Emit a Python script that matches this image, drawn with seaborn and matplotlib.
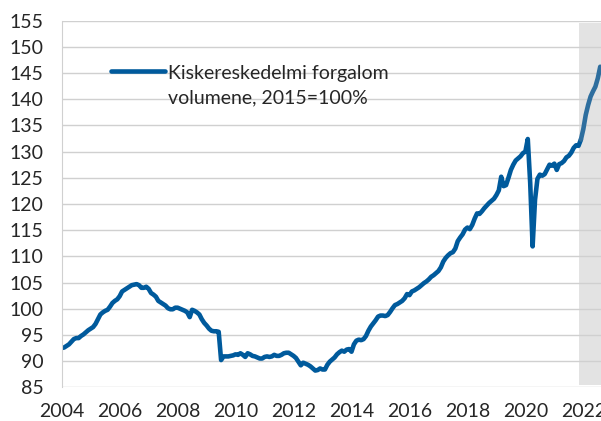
import numpy as np
import pandas as pd
import seaborn as sns
import matplotlib.pyplot as plt

# monthly index values, 2004-01 .. 2022-08 (2015=100)
y2004 = [92.5, 92.6, 92.9, 93.2, 93.7, 94.2, 94.4, 94.4, 94.8, 95.1, 95.5, 95.9]
y2005 = [96.2, 96.5, 97.1, 98.0, 98.9, 99.3, 99.6, 99.8, 100.4, 101.1, 101.5, 101.8]
y2006 = [102.4, 103.3, 103.6, 103.9, 104.2, 104.5, 104.6, 104.7, 104.5, 104.0, 104.0, 104.2]
y2007 = [103.8, 103.0, 102.7, 102.3, 101.5, 101.2, 100.9, 100.6, 100.1, 99.9, 99.9, 100.2]
y2008 = [100.2, 100.0, 99.8, 99.6, 99.3, 98.4, 99.8, 99.6, 99.3, 98.9, 98.0, 97.3]
y2009 = [96.8, 96.2, 95.8, 95.7, 95.7, 95.6, 90.2, 90.9, 90.9, 90.9, 91.0, 91.1]
y2010 = [91.3, 91.2, 91.5, 91.2, 90.8, 91.5, 91.3, 91.0, 90.9, 90.7, 90.5, 90.5]
y2011 = [90.8, 90.9, 90.8, 90.9, 91.2, 91.0, 91.0, 91.2, 91.5, 91.6, 91.6, 91.3]
y2012 = [91.0, 90.6, 89.9, 89.2, 89.7, 89.5, 89.3, 89.0, 88.6, 88.2, 88.3, 88.6]
y2013 = [88.4, 88.4, 89.3, 89.9, 90.3, 90.7, 91.3, 91.7, 92.0, 91.8, 92.2, 92.3]
y2014 = [91.8, 93.2, 93.9, 94.1, 94.0, 94.2, 94.8, 95.8, 96.6, 97.2, 97.8, 98.5]
y2015 = [98.7, 98.7, 98.6, 98.8, 99.4, 100.1, 100.7, 100.9, 101.2, 101.5, 102.0, 102.8]
y2016 = [102.6, 103.3, 103.5, 103.8, 104.1, 104.5, 104.9, 105.2, 105.6, 106.1, 106.4, 106.8]
y2017 = [107.2, 107.9, 109.0, 109.7, 110.2, 110.6, 110.8, 111.5, 112.9, 113.6, 114.2, 115.1]
y2018 = [115.5, 115.2, 116.0, 117.2, 118.2, 118.1, 118.6, 119.2, 119.7, 120.2, 120.6, 121.0]
y2019 = [121.7, 122.6, 125.2, 123.4, 123.6, 125.0, 126.5, 127.5, 128.3, 128.7, 129.1, 129.7]
y2020 = [130.0, 132.4, 124.0, 111.9, 120.8, 124.8, 125.6, 125.4, 125.7, 126.6, 127.5, 127.3]
y2021 = [127.7, 126.5, 127.6, 127.8, 128.2, 128.9, 129.2, 129.8, 130.7, 131.2, 131.1, 132.3]
y2022 = [134.3, 137.0, 138.9, 140.5, 141.5, 142.4, 144.0, 146.2]

values = (y2004 + y2005 + y2006 + y2007 + y2008 + y2009 + y2010 + y2011 + y2012
          + y2013 + y2014 + y2015 + y2016 + y2017 + y2018 + y2019 + y2020 + y2021 + y2022)
df = pd.DataFrame({"ev": 2004 + np.arange(len(values)) / 12, "ertek": values})

shade_start = 2021.85
x_end = 2022.61
label = "Kiskereskedelmi forgalom\nvolumene, 2015=100%"

sns.set_style("white")
plt.rcParams["font.family"] = ["Lato", "DejaVu Sans"]
fs = 14

fig = plt.figure(figsize=(6.01, 4.21), dpi=100)
ax = fig.add_axes([0.1027, 0.08, 0.8973, 0.871])

ax.axvspan(shade_start, x_end + 1, ymin=0.007, ymax=0.994, color="#e3e3e3", lw=0, zorder=0)

main = df[df["ev"] <= 2021.92]
fc = df[df["ev"] >= 2021.84]
sns.lineplot(data=main, x="ev", y="ertek", color="#005a9c", lw=3.3, ax=ax, label=label)
sns.lineplot(data=fc, x="ev", y="ertek", color="#2e6e9e", lw=3.3, ax=ax)

ax.set_xlim(2004, x_end)
ax.set_ylim(85, 155)
ax.set_yticks(np.arange(85, 156, 5))
ax.set_xticks(np.arange(2004, 2023, 2))
ax.grid(axis="y", color="#d0d0d0", lw=1)
ax.set_axisbelow(True)
ax.tick_params(labelsize=fs, length=0)
ax.tick_params(axis="x", pad=11)
ax.tick_params(axis="y", pad=13)
ax.set_xlabel("")
ax.set_ylabel("")
for s in ["top", "right", "bottom"]:
    ax.spines[s].set_visible(False)
ax.spines["left"].set_color("#d0d0d0")

leg = ax.legend(loc="upper left", bbox_to_anchor=(0.059, 0.927), frameon=False,
                fontsize=fs, handlelength=2.75, handletextpad=0.2)
for t in leg.get_texts():
    t.set_linespacing(1.5)
# put the legend line level with the first text line
hl = leg.get_lines()[0]
hl.set_ydata(np.asarray(hl.get_ydata()) + 0.75 * fs)

plt.savefig("out.png", dpi=100)
